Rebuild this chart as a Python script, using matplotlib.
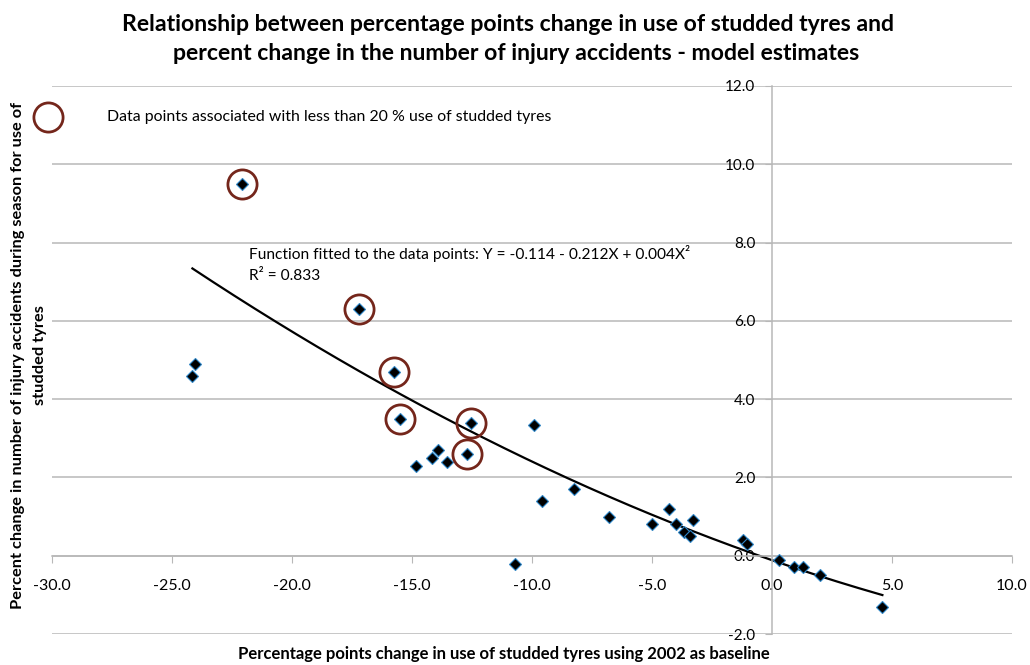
import numpy as np
import matplotlib.pyplot as plt

# percentage points change in studded tyre use vs percent change in injury accidents
x_pts = [-22.1, -17.2, -15.75, -15.5, -12.55, -12.7,
         -24.05, -24.15, -14.85, -14.15, -13.9, -13.55, -9.9,
         -9.6, -8.25, -10.7, -6.8, -5.0, -4.3, -4.0, -3.65, -3.4, -3.3,
         -1.2, -1.05, 0.3, 0.9, 1.3, 2.0, 4.6]
y_pts = [9.5, 6.3, 4.7, 3.5, 3.4, 2.6,
         4.9, 4.6, 2.3, 2.5, 2.7, 2.4, 3.35,
         1.4, 1.7, -0.2, 1.0, 0.8, 1.2, 0.8, 0.6, 0.5, 0.9,
         0.4, 0.3, -0.1, -0.3, -0.3, -0.5, -1.3]
# first six points: less than 20 % use of studded tyres
n_low = 6

# fitted function shown in the chart
coef = [-0.114, -0.212, 0.004]

x_ticks = [-30, -25, -20, -15, -10, -5, 0, 5, 10]
y_ticks = [-2, 0, 2, 4, 6, 8, 10, 12]

plt.rcParams['font.family'] = ['Lato', 'DejaVu Sans']

fig = plt.figure(figsize=(10.3, 6.65), dpi=100)
ax = fig.add_axes([0.0505, 0.0466, 0.932, 0.8241])

ax.set_xlim(-30, 10)
ax.set_ylim(-2, 12)

for yt in y_ticks:
    ax.axhline(yt, color='#b8b8b8', lw=1.1, zorder=0)

xf = np.linspace(min(x_pts), max(x_pts), 200)
yf = coef[0] + coef[1] * xf + coef[2] * xf ** 2
ax.plot(xf, yf, color='black', lw=1.6, zorder=2)

ax.plot(x_pts, y_pts, 'D', ms=5.8, mfc='black', mec='#2e86c8', mew=0.8,
        ls='none', zorder=3)
ax.plot(x_pts[:n_low], y_pts[:n_low], 'o', ms=21, mfc='none', mec='#74261b',
        mew=2.0, ls='none', zorder=4)

for s in ['top', 'right']:
    ax.spines[s].set_visible(False)
ax.spines['left'].set_position(('data', 0))
ax.spines['bottom'].set_position(('data', 0))
for s in ['left', 'bottom']:
    ax.spines[s].set_color('#b8b8b8')
    ax.spines[s].set_linewidth(1.1)

ax.set_xticks(x_ticks)
ax.set_xticklabels(['%.1f' % v for v in x_ticks])
ax.set_yticks(y_ticks)
ax.set_yticklabels(['%.1f' % v for v in y_ticks])
ax.tick_params(axis='x', direction='out', length=5, color='#b8b8b8',
               labelsize=11.5, pad=12)
ax.tick_params(axis='y', direction='out', length=5, color='#b8b8b8',
               labelsize=11, pad=7)
for lbl in ax.get_yticklabels():
    lbl.set_zorder(5)

# legend entry for circles
ax.plot([-30.15], [11.2], 'o', ms=21, mfc='none', mec='#74261b', mew=2.0,
        clip_on=False)
ax.text(-27.7, 11.2, 'Data points associated with less than 20 % use of studded tyres',
        fontsize=11.4, va='center', ha='left')

ax.text(-21.8, 7.72, 'Function fitted to the data points: Y = -0.114 - 0.212X + 0.004X\u00b2',
        fontsize=11.2, va='center', ha='left')
ax.text(-21.8, 7.15, 'R\u00b2 = 0.833', fontsize=11.2, va='center', ha='left')

fig.text(0.493, 0.963, 'Relationship between percentage points change in use of studded tyres and',
         fontsize=16.6, fontweight='bold', ha='center', va='center')
fig.text(0.501, 0.920, 'percent change in the number of injury accidents - model estimates',
         fontsize=16.6, fontweight='bold', ha='center', va='center')

fig.text(0.489, 0.016, 'Percentage points change in use of studded tyres using 2002 as baseline',
         fontsize=12, fontweight='bold', ha='center', va='center')
fig.text(0.0175, 0.466, 'Percent change in number of injury accidents during season for use of',
         fontsize=11.8, fontweight='bold', ha='center', va='center', rotation=90)
fig.text(0.039, 0.466, 'studded tyres',
         fontsize=11.8, fontweight='bold', ha='center', va='center', rotation=90)

fig.savefig('out.png', dpi=100)
